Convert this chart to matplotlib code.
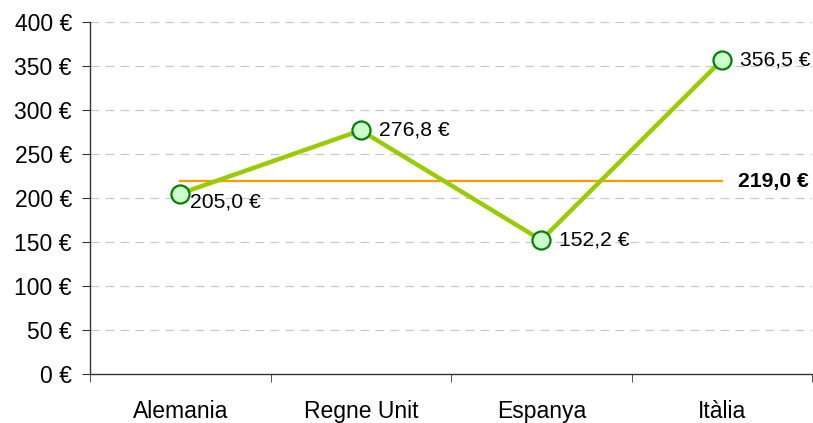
import numpy as np
import matplotlib.pyplot as plt

plt.rcParams['font.family'] = ['Liberation Sans', 'DejaVu Sans']

countries = ['Alemania', 'Regne Unit', 'Espanya', 'Itàlia']
prices = [205.0, 276.8, 152.2, 356.5]
average = 219.0
y_ticks = [0, 50, 100, 150, 200, 250, 300, 350, 400]


def euro(v, dec=1):
    s = f"{v:.{dec}f}".replace('.', ',')
    return s + ' €'


fig = plt.figure(figsize=(8.13, 4.23), dpi=100)
ax = fig.add_axes([90 / 813, 1 - 374 / 423, 722 / 813, 352 / 423])

x = np.arange(len(countries))

# grid
for t in y_ticks[1:]:
    ax.axhline(t, color='#C8C8C8', lw=0.9, dashes=(7, 5), zorder=0)

# average line
ax.plot([x[0], x[-1]], [average, average], color='#FF9900', lw=1.6, zorder=2)
ax.annotate(euro(average), (x[-1], average), xytext=(12, 0), textcoords='offset points',
            ha='left', va='center', fontsize=15.2, fontweight='bold')

# main series
ax.plot(x, prices, color='#99CC00', lw=3.2, zorder=3, marker='o', markersize=13,
        markerfacecolor='#CCFFCC', markeredgecolor='#008000', markeredgewidth=1.6)

offsets = [(7, -6), (13, 0), (13, 0), (13, 0)]
for xi, p, off in zip(x, prices, offsets):
    ax.annotate(euro(p), (xi, p), xytext=off, textcoords='offset points',
                ha='left', va='center', fontsize=15.2)

ax.set_xlim(-0.5, 3.5)
ax.set_ylim(0, 400)
ax.set_yticks(y_ticks)
ax.set_yticklabels([euro(t, 0) for t in y_ticks], fontsize=16.5)
ax.set_xticks(x)
ax.set_xticklabels(countries, fontsize=16.5)
ax.set_xticks(np.arange(-0.5, 4, 1), minor=True)
ax.tick_params(axis='x', which='major', length=0, pad=19)
ax.tick_params(axis='x', which='minor', length=6, direction='out', color='#333333')
ax.tick_params(axis='y', length=6, direction='out', color='#333333', pad=7)

for s in ['top', 'right']:
    ax.spines[s].set_visible(False)
for s in ['left', 'bottom']:
    ax.spines[s].set_color('#333333')
    ax.spines[s].set_linewidth(1.0)

fig.savefig('out.png', dpi=100)
